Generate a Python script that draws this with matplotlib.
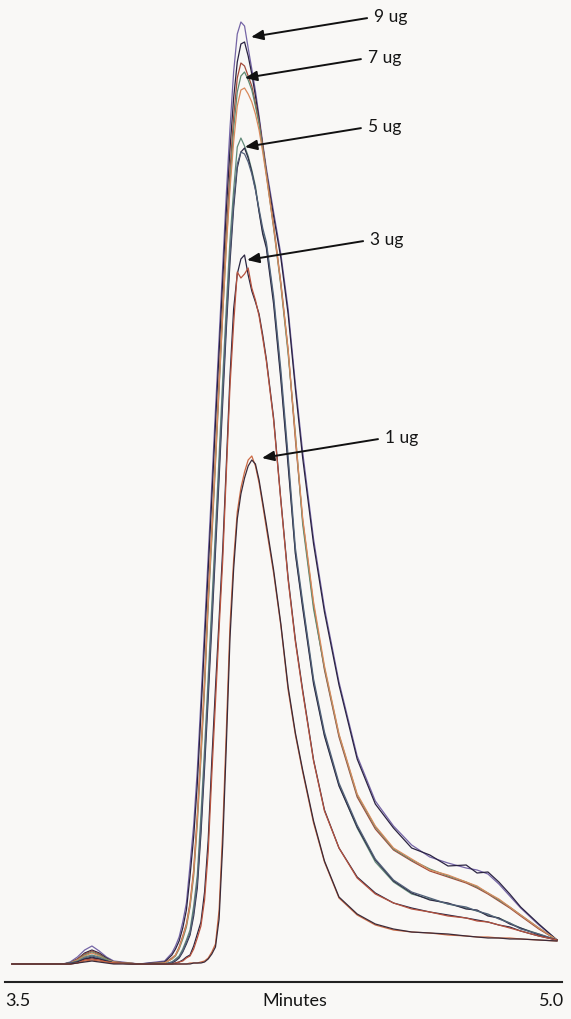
import numpy as np
import matplotlib
matplotlib.use("Agg")
import matplotlib.pyplot as plt
import matplotlib.transforms as mtrans

# retention time grid (minutes), denser where the peak rises and falls
times = [3.50, 3.62, 3.64, 3.66, 3.68, 3.70, 3.72, 3.74, 3.76, 3.78, 3.85, 3.92,
         3.94, 3.95, 3.96, 3.97, 3.98, 3.99, 4.00, 4.01, 4.02, 4.03, 4.04, 4.05, 4.06,
         4.07, 4.08, 4.09, 4.10, 4.11, 4.12, 4.13, 4.14, 4.15, 4.16, 4.17, 4.18, 4.19, 4.20,
         4.22, 4.24, 4.26, 4.28, 4.30,
         4.33, 4.36, 4.40, 4.45, 4.50, 4.55, 4.60, 4.65, 4.70, 4.75, 4.78, 4.81, 4.84,
         4.87, 4.90, 4.95, 5.00]

# detector response, one list per injection
ug9_purple = [0, 0, 0, 2, 7, 14, 18, 13, 7, 3, 0, 3,
              11, 18, 27, 42, 61, 99, 139, 194, 264, 336, 408, 480, 554, 626, 698, 771, 836,
              892, 930, 942, 938, 916, 895, 873, 848, 821, 796,
              752, 710, 655, 580, 512,
              425, 356, 282, 208, 163, 138, 119, 107, 101, 96, 94, 90, 80, 68, 56, 39, 24]
ug9_navy = [0, 0, 0, 1, 5, 11, 14, 11, 6, 2, 0, 2,
            9, 15, 23, 36, 54, 88, 127, 180, 250, 322, 394, 466, 540, 612, 684, 754, 815,
            866, 902, 920, 922, 908, 890, 868, 845, 818, 792,
            748, 706, 650, 575, 506,
            420, 352, 279, 205, 160, 136, 116, 109, 98, 99, 91, 92, 82, 70, 57, 40, 24]

ug7_brown = [0, 0, 0, 1, 5, 10, 13, 10, 5, 2, 0, 1,
             6, 9, 17, 28, 40, 61, 94, 149, 214, 284, 368, 434, 508, 584, 659, 731, 794,
             847, 886, 901, 898, 888, 878, 861, 842, 819, 792,
             739, 681, 614, 524, 444,
             359, 294, 227, 167, 135, 114, 103, 93, 87, 81, 76, 70, 63, 56, 48, 35, 24]
ug7_green = [0, 0, 0, 1, 4, 9, 12, 9, 5, 2, 0, 1,
             5, 8, 15, 25, 37, 57, 88, 140, 205, 275, 358, 425, 500, 575, 650, 720, 782,
             835, 872, 888, 892, 884, 874, 858, 840, 816, 790,
             736, 678, 610, 530, 440,
             355, 296, 229, 169, 137, 115, 104, 95, 88, 82, 77, 71, 64, 57, 49, 36, 24]
ug7_orange = [0, 0, 0, 1, 4, 8, 11, 8, 4, 2, 0, 1,
              5, 9, 16, 27, 39, 59, 91, 145, 210, 280, 362, 430, 503, 578, 650, 718, 775,
              822, 858, 874, 876, 870, 862, 850, 834, 812, 788,
              737, 680, 614, 528, 446,
              362, 298, 230, 170, 138, 116, 105, 94, 89, 82, 78, 71, 65, 57, 49, 36, 24]

ug5_green = [0, 0, 0, 1, 3, 7, 9, 7, 4, 1, 0, 0,
             2, 5, 8, 15, 24, 34, 58, 89, 149, 216, 287, 360, 434, 508, 586, 659, 724,
             774, 817, 826, 818, 808, 794, 778, 753, 732, 719,
             664, 588, 502, 411, 359,
             282, 229, 179, 136, 102, 82, 70, 65, 60, 56, 53, 49, 46, 41, 36, 30, 24]
ug5_navy = [0, 0, 0, 1, 2, 5, 7, 5, 3, 1, 0, 0,
            1, 3, 6, 12, 20, 29, 48, 76, 130, 196, 266, 338, 412, 486, 562, 636, 702,
            756, 796, 812, 816, 806, 792, 775, 752, 730, 716,
            660, 584, 498, 410, 356,
            280, 228, 178, 137, 104, 83, 71, 64, 61, 55, 54, 48, 46, 40, 36, 29, 24]
ug5_slate = [0, 0, 0, 1, 2, 6, 8, 6, 3, 1, 0, 0,
             2, 4, 7, 13, 22, 31, 52, 82, 138, 205, 276, 348, 422, 496, 572, 645, 710,
             762, 800, 812, 810, 802, 790, 774, 755, 736, 722,
             668, 594, 508, 416, 362,
             285, 232, 181, 139, 105, 84, 72, 66, 60, 57, 53, 50, 45, 41, 35, 30, 24]

ug3_navy = [0, 0, 0, 0, 2, 5, 6, 5, 3, 1, 0, 0,
            0, 1, 2, 4, 7, 9, 18, 30, 42, 72, 124, 204, 276, 345, 415, 500, 588,
            655, 690, 705, 709, 689, 673, 662, 650, 629, 605,
            546, 464, 386, 324, 274,
            204, 154, 116, 87, 71, 61, 56, 52, 49, 46, 44, 42, 39, 37, 33, 28, 24]
ug3_red = [0, 0, 0, 0, 1, 4, 5, 4, 2, 1, 0, 0,
           0, 1, 2, 3, 6, 8, 15, 26, 38, 64, 112, 190, 262, 335, 404, 492, 578,
           640, 692, 686, 690, 696, 676, 664, 648, 626, 603,
           544, 463, 384, 322, 272,
           203, 153, 116, 86, 70, 61, 55, 52, 48, 46, 43, 42, 39, 36, 33, 28, 24]

ug1_red = [0, 0, 0, 0, 1, 3, 4, 3, 2, 1, 0, 0,
           0, 0, 0, 0, 0, 1, 1, 1, 2, 3, 6, 12, 20, 54, 134, 234, 339,
           404, 452, 476, 492, 504, 508, 498, 481, 459, 436,
           391, 338, 274, 229, 192,
           141, 102, 66, 49, 39, 34, 32, 31, 29, 28, 27, 27, 26, 26, 25, 24, 23]
ug1_dark = [0, 0, 0, 0, 1, 2, 3, 2, 1, 0, 0, 0,
            0, 0, 0, 0, 0, 0, 1, 1, 1, 2, 5, 10, 17, 45, 120, 220, 326,
            395, 445, 470, 486, 498, 504, 500, 484, 462, 440,
            394, 340, 277, 231, 194,
            143, 103, 67, 50, 40, 35, 32, 31, 30, 28, 27, 26, 26, 25, 25, 24, 23]

labels = ["9 ug", "7 ug", "5 ug", "3 ug", "1 ug"]
groups = [[ug9_purple, ug9_navy],
          [ug7_brown, ug7_green, ug7_orange],
          [ug5_green, ug5_navy, ug5_slate],
          [ug3_navy, ug3_red],
          [ug1_red, ug1_dark]]
colors = [["#7565a6", "#2a2342"],
          ["#a44c3a", "#5f8a70", "#d88a5c"],
          ["#628b7a", "#2d2a45", "#53627a"],
          ["#2a2540", "#b5523e"],
          ["#cc6a44", "#3b2a38"]]

# where each arrow head sits relative to the group's top point
tip_shift = [0.028, 0.011, 0.011, 0.007, 0.028]
tip_drop = [15, 15, 9, 5, 2]

bg = "#f9f8f6"
fig = plt.figure(figsize=(5.71, 10.19), dpi=100, facecolor=bg)
ax = fig.add_axes([5 / 571, 37 / 1019, 557 / 571, 982 / 1019])
ax.set_facecolor(bg)

for grp, cols in zip(groups, colors):
    for vals, col in zip(grp, cols):
        ax.plot(times, vals, color=col, lw=0.9)

for lab, grp, dx, dy in zip(labels, groups, tip_shift, tip_drop):
    arr = np.array(grp)
    i = np.unravel_index(np.argmax(arr), arr.shape)[1]
    tip = (times[i] + dx, arr.max() - dy)
    ax.annotate(lab, xy=tip, xytext=(88.5, 14.4), textcoords="offset points",
                ha="left", va="center", fontsize=12.5, family="Lato", color="#151515",
                arrowprops=dict(arrowstyle="-|>,head_length=0.6,head_width=0.25",
                                color="#111111", lw=1.4, shrinkA=3, shrinkB=0,
                                mutation_scale=12, relpos=(0, 0.5)))

ax.set_xlim(3.4807, 5.0138)
ax.set_ylim(-18, 964)
for s in ["top", "left", "right"]:
    ax.spines[s].set_visible(False)
ax.spines["bottom"].set_linewidth(1.5)
ax.spines["bottom"].set_color("#222222")
ax.set_yticks([])
ax.set_xticks([3.5, 5.0])
ax.set_xticklabels(["3.5", "5.0"], fontsize=13, family="Lato", color="#151515")
ax.tick_params(axis="x", length=0, pad=8)
ticklabs = ax.get_xticklabels()
ticklabs[0].set_transform(ticklabs[0].get_transform() +
                          mtrans.ScaledTranslation(6 / 100, 0, fig.dpi_scale_trans))
ticklabs[1].set_transform(ticklabs[1].get_transform() +
                          mtrans.ScaledTranslation(-5 / 100, 0, fig.dpi_scale_trans))
fig.text(295 / 571, 1 - 1001 / 1019, "Minutes", ha="center", va="center",
         fontsize=13, family="Lato", color="#151515")

fig.savefig("out.png", dpi=100, facecolor=bg)
